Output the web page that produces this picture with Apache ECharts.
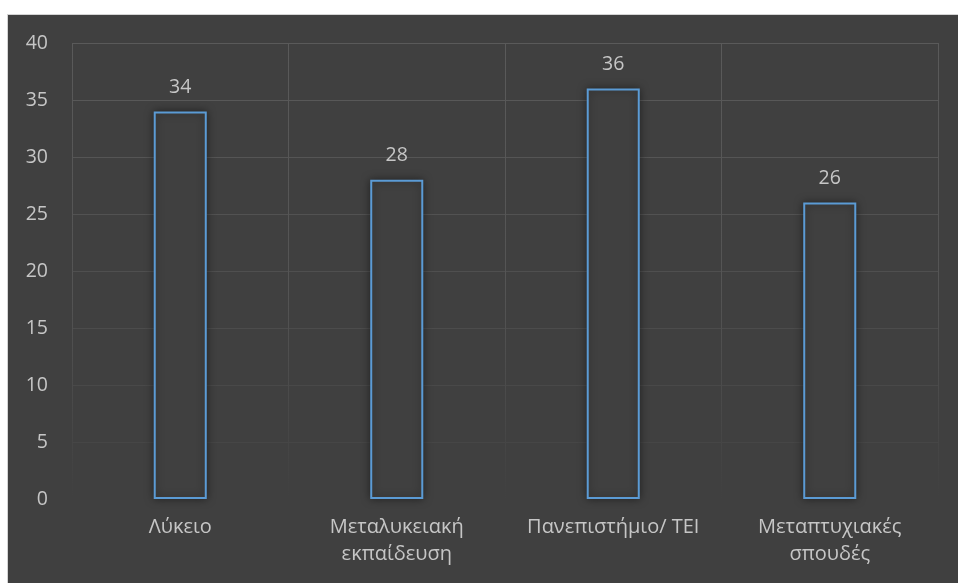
<!DOCTYPE html>
<html>
<head>
<meta charset="utf-8">
<script src="https://cdn.jsdelivr.net/npm/echarts@6/dist/echarts.min.js"></script>
<style>
html,body{margin:0;padding:0;background:#fff;width:958px;height:583px;overflow:hidden;}
#wrap{position:absolute;left:7px;top:14px;width:950px;height:568px;background:#404040;border-top:1px solid #d4d4d4;border-left:1px solid #d4d4d4;}
#chart{position:absolute;left:0;top:0;width:950px;height:568px;}
</style>
</head>
<body>
<div id="wrap"><div id="chart"></div></div>
<script>
const categories = ['Λύκειο', 'Μεταλυκειακή\nεκπαίδευση', 'Πανεπιστήμιο/ ΤΕΙ', 'Μεταπτυχιακές\nσπουδές'];
const values = [34, 28, 36, 26];
const yTicks = [0, 5, 10, 15, 20, 25, 30, 35, 40];

const chart = echarts.init(document.getElementById('chart'), null, {renderer: 'canvas'});
const font = "'Open Sans', 'Noto Sans', sans-serif";
const textColor = '#c6c6c6';
const option = {
  backgroundColor: 'transparent',
  animation: false,
  grid: {left: 64, top: 28, right: 20, bottom: 84, containLabel: false},
  xAxis: {
    type: 'category',
    data: categories,
    axisLine: {show: false},
    axisTick: {show: false},
    axisLabel: {color: textColor, fontSize: 20, fontFamily: font, margin: 15, lineHeight: 27, interval: 0},
    splitLine: {
      show: true,
      interval: 0,
      lineStyle: {
        width: 1,
        color: new echarts.graphic.LinearGradient(0, 28, 0, 484, [
          {offset: 0, color: '#5a5a5a'},
          {offset: 0.55, color: '#545454'},
          {offset: 1, color: '#404040'}
        ], true)
      }
    }
  },
  yAxis: {
    type: 'value',
    min: yTicks[0],
    max: yTicks[yTicks.length - 1],
    interval: 5,
    axisLine: {show: false},
    axisTick: {show: false},
    axisLabel: {color: textColor, fontSize: 19.5, fontFamily: font, margin: 24},
    splitLine: {
      show: true,
      lineStyle: {
        width: 1,
        color: ['rgba(0,0,0,0)', '#464646', '#494949', '#4c4c4c', '#4f4f4f', '#525252', '#555555', '#585858', '#5a5a5a']
      }
    }
  },
  series: [{
    type: 'bar',
    data: values,
    barWidth: '24.5%',
    itemStyle: {
      color: '#404040',
      borderColor: '#5b9bd5',
      borderWidth: 2,
      shadowBlur: 8,
      shadowColor: 'rgba(0,0,0,0.45)'
    },
    label: {
      show: true,
      position: 'top',
      distance: 14,
      color: textColor,
      fontSize: 19.5,
      fontFamily: font
    }
  }]
};
chart.setOption(option);
</script>
</body>
</html>
